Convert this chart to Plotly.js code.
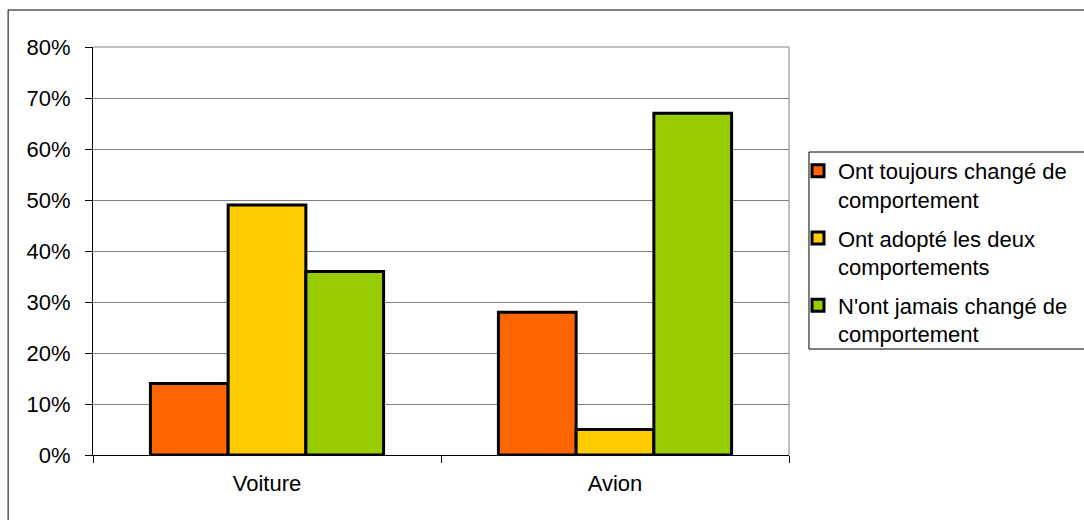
<!DOCTYPE html>
<html>
<head>
<meta charset="utf-8">
<script src="https://cdn.plot.ly/plotly-3.0.1.min.js"></script>
<style>html,body{margin:0;padding:0;background:#fff}#chart{width:1084px;height:520px}</style>
</head>
<body>
<div id="chart"></div>
<script>
const categories = ["Voiture", "Avion"];
const seriesNames = ["Ont toujours changé de<br>comportement", "Ont adopté les deux<br>comportements", "N'ont jamais changé de<br>comportement"];
const toujours = [0.14, 0.28];
const deux = [0.49, 0.05];
const jamais = [0.36, 0.67];
const colors = ["#FF6600", "#FFCC00", "#99CC00"];
const yTicks = [0, 0.1, 0.2, 0.3, 0.4, 0.5, 0.6, 0.7, 0.8];

const values = [toujours, deux, jamais];
const traces = values.map((v, i) => ({
  type: "bar",
  name: seriesNames[i],
  legendgroup: "g" + i,
  x: categories,
  y: v,
  marker: {color: colors[i], line: {color: "#000", width: 3}},
  hoverinfo: "none"
}));

const font = {family: "Liberation Sans, Arial, sans-serif", size: 22, color: "#000"};
const L = 93, R = 790, T = 47, B = 455, W = R - L, H = B - T;
const px = x => (x - L) / W, py = y => (B - y) / H;

const layout = {
  width: 1084, height: 520,
  margin: {l: L, r: 1084 - R, t: T, b: 520 - B, pad: 0},
  paper_bgcolor: "#fff", plot_bgcolor: "#fff",
  font: font,
  barmode: "group", bargap: 0.33, bargroupgap: 0,
  showlegend: true,
  legend: {
    x: px(798), xanchor: "left", y: py(150), yanchor: "top",
    bgcolor: "rgba(0,0,0,0)", borderwidth: 0, font: font,
    valign: "top", traceorder: "grouped", tracegroupgap: 7, itemwidth: 30
  },
  xaxis: {
    type: "category", showgrid: false, showline: true, linecolor: "#000", linewidth: 1,
    ticks: "outside", tickson: "boundaries", ticklen: 7, tickcolor: "#000",
    ticklabelstandoff: 9, zeroline: false, tickfont: font
  },
  yaxis: {
    range: [0, 0.8], tickvals: yTicks, tickformat: ".0%",
    showgrid: true, gridcolor: "#808080", gridwidth: 1,
    showline: true, linecolor: "#000", linewidth: 1,
    ticks: "outside", ticklen: 7, tickcolor: "#000",
    ticklabelstandoff: 10, zeroline: false, tickfont: font
  },
  shapes: [
    {type: "rect", xref: "paper", yref: "paper", x0: px(8), x1: px(1095), y0: py(10), y1: py(535), line: {color: "#000", width: 1}, fillcolor: "rgba(0,0,0,0)", layer: "below"},
    {type: "line", xref: "paper", yref: "paper", x0: 1, x1: 1, y0: 0, y1: 1, line: {color: "#808080", width: 1}},
    {type: "line", xref: "paper", yref: "paper", x0: 0, x1: 1, y0: 1, y1: 1, line: {color: "#808080", width: 1}},
    {type: "rect", xref: "paper", yref: "paper", x0: px(810), x1: px(1095), y0: py(152), y1: py(349), line: {color: "#000", width: 1}, fillcolor: "rgba(0,0,0,0)"}
  ]
};

Plotly.newPlot("chart", traces, layout, {displayModeBar: false, staticPlot: true});
</script>
</body>
</html>
